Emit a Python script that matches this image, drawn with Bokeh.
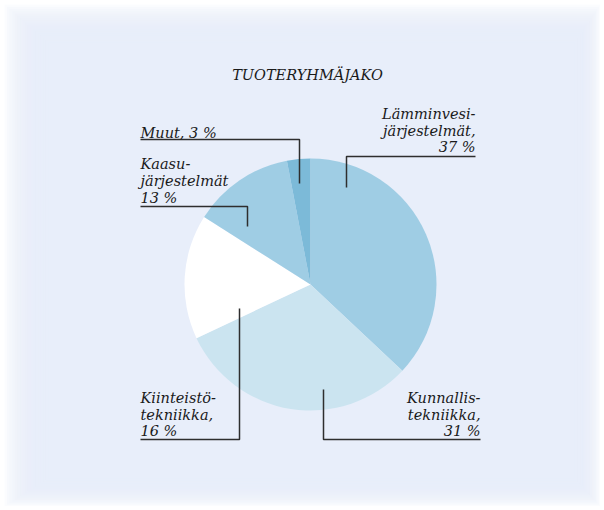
import numpy as np
from bokeh.plotting import figure
from bokeh.models import ColumnDataSource, Range1d
from bokeh.core.properties import value
from bokeh.embed import file_html
from bokeh.resources import INLINE

# ---- data ----
categories = ["Lämminvesijärjestelmät", "Kunnallistekniikka", "Kiinteistötekniikka",
              "Kaasujärjestelmät", "Muut"]
shares = [37, 31, 16, 13, 3]
label_words = [["Lämminvesi-", "järjestelmät,"], ["Kunnallis-", "tekniikka,"],
               ["Kiinteistö-", "tekniikka,"], ["Kaasu-", "järjestelmät"], ["Muut,"]]
title_text = "TUOTERYHMÄJAKO"

# ---- styles / layout ----
colors = ["#9fcde4", "#cbe4f0", "#ffffff", "#9fcde4", "#7cbad8"]
W, H = 600, 506
FONT = value("DejaVu Serif")
FS = "14.5px"

def px(x):  # page x -> data x
    return x

def py(y):  # page y -> data y
    return H - y

p = figure(width=W, height=H, output_backend="svg", toolbar_location=None,
           x_range=Range1d(0, W), y_range=Range1d(0, H), min_border=0)
p.axis.visible = False
p.grid.visible = False
p.outline_line_color = None
p.background_fill_color = "white"
p.border_fill_color = "white"

# soft vignette background
n = 18
t = np.linspace(0, 1, n)
p.quad(left=4 + 44 * t, right=W - (0 + 26 * t), bottom=0 + 28 * t, top=H - (4 + 38 * t),
       fill_color="#eaf0f7", fill_alpha=0.17, line_color=None)

# pie
cx, cy, r = px(310), py(284), 126
frac = np.array(shares, dtype=float) / sum(shares)
cum = np.concatenate([[0], np.cumsum(frac)])
start = np.pi / 2 - cum[:-1] * 2 * np.pi
end = np.pi / 2 - cum[1:] * 2 * np.pi
src = ColumnDataSource(dict(start=start, end=end, color=colors, cat=categories))
p.wedge(x=cx, y=cy, radius=r, start_angle="start", end_angle="end",
        direction="clock", fill_color="color", line_color=None, source=src)

# leader lines (page coords)
leaders = [
    [(475, 156), (346, 156), (346, 187)],
    [(480, 439), (323, 439), (323, 389)],
    [(140, 439), (239, 439), (239, 308)],
    [(140, 206), (247, 206), (247, 226)],
    [(140, 139), (299, 139), (299, 183)],
]
p.multi_line(xs=[[px(a) for a, b in L] for L in leaders],
             ys=[[py(b) for a, b in L] for L in leaders],
             line_color="#2e2e2e", line_width=1.5)

# labels
anchors = [(475, [113, 130, 146], "right"),
           (480, [397, 414, 430], "right"),
           (140, [397, 414, 430], "left"),
           (140, [163, 180, 197], "left"),
           (140, [132], "left")]
for words, v, (ax, ys, al) in zip(label_words, shares, anchors):
    lines = list(words)
    if len(lines) == 1:
        lines = [lines[0] + f" {v} %"]
    else:
        lines = lines + [f"{v} %"]
    p.text(x=[px(ax)] * len(lines), y=[py(y) for y in ys], text=lines,
           text_font=FONT, text_font_style="italic", text_font_size=FS,
           text_color="#1a1a1a", text_align=al, text_baseline="alphabetic")

# title
p.text(x=[px(307)], y=[py(74)], text=[title_text], text_font=FONT,
       text_font_style="italic", text_font_size=FS, text_color="#1a1a1a",
       text_align="center", text_baseline="alphabetic")

open("out.html", "w").write(file_html(p, INLINE))
